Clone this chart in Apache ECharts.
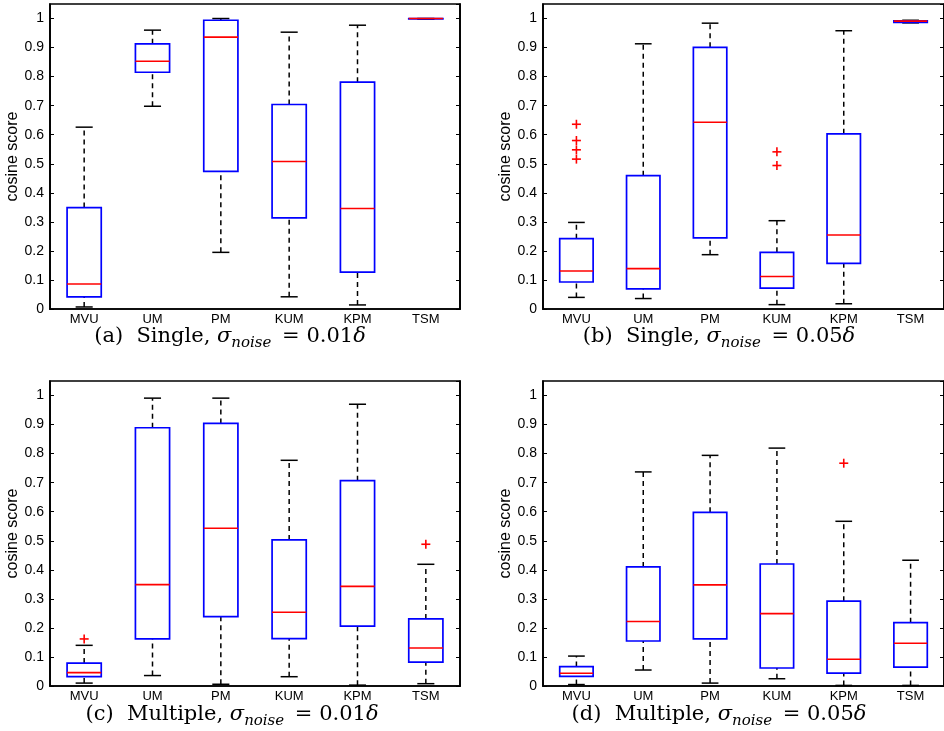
<!DOCTYPE html>
<html>
<head>
<meta charset="utf-8">
<script src="https://cdn.jsdelivr.net/npm/echarts@6/dist/echarts.min.js"></script>
<style>
html,body{margin:0;padding:0;background:#fff;}
#chart{width:944px;height:731px;}
</style>
</head>
<body>
<div id="chart"></div>
<script>
// ---- data ----
const categories = ['MVU', 'UM', 'PM', 'KUM', 'KPM', 'TSM'];
const yTicks = [0, 0.1, 0.2, 0.3, 0.4, 0.5, 0.6, 0.7, 0.8, 0.9, 1];
// each box: [lower whisker, Q1, median, Q3, upper whisker]
const boxesA = [
  [0.007, 0.042, 0.086, 0.349, 0.626],
  [0.698, 0.815, 0.853, 0.913, 0.960],
  [0.195, 0.474, 0.936, 0.994, 1.000],
  [0.042, 0.314, 0.508, 0.704, 0.953],
  [0.014, 0.127, 0.346, 0.781, 0.977],
  [0.998, 0.999, 1.000, 1.000, 1.000]
];
const outliersA = [];
const boxesB = [
  [0.040, 0.093, 0.131, 0.242, 0.298],
  [0.036, 0.069, 0.139, 0.459, 0.913],
  [0.187, 0.245, 0.643, 0.901, 0.984],
  [0.015, 0.072, 0.112, 0.195, 0.304],
  [0.018, 0.157, 0.255, 0.603, 0.958],
  [0.985, 0.987, 0.991, 0.992, 0.994]
];
const outliersB = [[0, 0.636], [0, 0.580], [0, 0.548], [0, 0.516], [3, 0.541], [3, 0.494]];
const boxesC = [
  [0.010, 0.032, 0.046, 0.079, 0.140],
  [0.036, 0.162, 0.349, 0.889, 0.991],
  [0.006, 0.239, 0.543, 0.904, 0.991],
  [0.032, 0.163, 0.254, 0.503, 0.777],
  [0.003, 0.206, 0.343, 0.707, 0.970],
  [0.008, 0.082, 0.131, 0.231, 0.419]
];
const outliersC = [[0, 0.162], [5, 0.488]];
const boxesD = [
  [0.005, 0.033, 0.044, 0.067, 0.103],
  [0.055, 0.155, 0.222, 0.410, 0.737],
  [0.010, 0.162, 0.348, 0.598, 0.794],
  [0.025, 0.062, 0.249, 0.420, 0.819],
  [0.002, 0.044, 0.092, 0.292, 0.567],
  [0.002, 0.065, 0.147, 0.218, 0.433]
];
const outliersD = [[4, 0.767]];
const captions = [
  ['(a)', 'Single,', '0.01'],
  ['(b)', 'Single,', '0.05'],
  ['(c)', 'Multiple,', '0.01'],
  ['(d)', 'Multiple,', '0.05']
];

// ---- layout ----
const panels = [
  {grid: {left: 50, top: 4, width: 410, height: 305}, boxes: boxesA, out: outliersA, cap: [230, 337]},
  {grid: {left: 543, top: 4, width: 409, height: 305}, boxes: boxesB, out: outliersB, cap: [719, 337]},
  {grid: {left: 50, top: 381, width: 410, height: 305}, boxes: boxesC, out: outliersC, cap: [232, 715]},
  {grid: {left: 543, top: 381, width: 409, height: 305}, boxes: boxesD, out: outliersD, cap: [719, 715]}
];

const AXFONT = 'Liberation Sans, Arial, sans-serif';
const SERIF = 'DejaVu Serif, serif';
const grid = [], xAxis = [], yAxis = [], series = [], graphic = [];

function renderBox(params, api) {
  const idx = api.value(0);
  const lo = api.value(1), q1 = api.value(2), med = api.value(3), q3 = api.value(4), hi = api.value(5);
  const band = api.size([1, 0])[0];
  const w = band * 0.5, cw = w * 0.5;
  const cx = api.coord([idx, med])[0];
  const y = v => api.coord([idx, v])[1];
  const black = {stroke: '#000', lineWidth: 1.5, fill: null};
  const dash = {stroke: '#000', lineWidth: 1.5, lineDash: [5, 4], fill: null};
  return {
    type: 'group',
    children: [
      {type: 'line', shape: {x1: cx, y1: y(q3), x2: cx, y2: y(hi)}, style: dash},
      {type: 'line', shape: {x1: cx, y1: y(lo), x2: cx, y2: y(q1)}, style: dash},
      {type: 'line', shape: {x1: cx - cw / 2, y1: y(hi), x2: cx + cw / 2, y2: y(hi)}, style: black},
      {type: 'line', shape: {x1: cx - cw / 2, y1: y(lo), x2: cx + cw / 2, y2: y(lo)}, style: black},
      {type: 'rect', shape: {x: cx - w / 2, y: y(q3), width: w, height: y(q1) - y(q3)},
        style: {stroke: '#0000ff', lineWidth: 1.7, fill: null}},
      {type: 'line', shape: {x1: cx - w / 2, y1: y(med), x2: cx + w / 2, y2: y(med)},
        style: {stroke: '#ff0000', lineWidth: 1.6}}
    ]
  };
}
function renderOut(params, api) {
  const p = api.coord([api.value(0), api.value(1)]);
  const s = 4.5;
  const st = {stroke: '#ff0000', lineWidth: 1.6};
  return {type: 'group', children: [
    {type: 'line', shape: {x1: p[0] - s, y1: p[1], x2: p[0] + s, y2: p[1]}, style: st},
    {type: 'line', shape: {x1: p[0], y1: p[1] - s, x2: p[0], y2: p[1] + s}, style: st}
  ]};
}

panels.forEach((p, i) => {
  grid.push(Object.assign({show: true, borderColor: '#000', borderWidth: 1.7, backgroundColor: 'transparent'}, p.grid));
  xAxis.push({
    type: 'category', gridIndex: i, data: categories, boundaryGap: true,
    axisLine: {lineStyle: {color: '#000', width: 1.7}},
    axisTick: {show: false},
    axisLabel: {color: '#000', fontFamily: AXFONT, fontSize: 13, margin: 4}
  });
  yAxis.push({
    type: 'value', gridIndex: i, min: 0, max: 1.05, interval: 0.1,
    name: 'cosine score', nameLocation: 'middle', nameGap: 28,
    nameTextStyle: {color: '#000', fontFamily: AXFONT, fontSize: 16},
    splitLine: {show: false},
    axisLine: {show: true, lineStyle: {color: '#000', width: 1.7}},
    axisTick: {show: true, inside: true, length: 4, lineStyle: {color: '#000'}},
    axisLabel: {color: '#000', fontFamily: AXFONT, fontSize: 14, margin: 6, showMaxLabel: false,
      formatter: v => (yTicks.some(t => Math.abs(t - v) < 1e-6) ? String(Math.round(v * 10) / 10) : '')}
  });
  yAxis.push({
    type: 'value', gridIndex: i, min: 0, max: 1.05, interval: 0.1, position: 'right',
    splitLine: {show: false},
    axisLine: {show: true, lineStyle: {color: '#000', width: 1.7}},
    axisTick: {show: true, inside: true, length: 4, lineStyle: {color: '#000'}},
    axisLabel: {show: false}
  });
  series.push({
    type: 'custom', xAxisIndex: i, yAxisIndex: i * 2, clip: false,
    renderItem: renderBox,
    encode: {x: 0, y: [1, 2, 3, 4, 5]},
    data: p.boxes.map((b, k) => [k].concat(b))
  });
  series.push({
    type: 'custom', xAxisIndex: i, yAxisIndex: i * 2, clip: false,
    renderItem: renderOut,
    encode: {x: 0, y: 1},
    data: p.out
  });
  const c = captions[i];
  graphic.push({
    type: 'text', x: p.cap[0], y: p.cap[1],
    style: {
      text: '{n|' + c[0] + '  ' + c[1] + ' }{m|σ}{sub|noise}{n| = ' + c[2] + '}{m|δ}',
      align: 'center', verticalAlign: 'middle',
      fill: '#000',
      rich: {
        n: {fontFamily: SERIF, fontSize: 21, lineHeight: 28, verticalAlign: 'middle', fill: '#000'},
        m: {fontFamily: SERIF, fontStyle: 'italic', fontSize: 21, lineHeight: 28, verticalAlign: 'middle', fill: '#000'},
        sub: {fontFamily: SERIF, fontStyle: 'italic', fontSize: 15, lineHeight: 28, verticalAlign: 'bottom', fill: '#000', padding: [0, 4, 0, 0]}
      }
    }
  });
});

const chart = echarts.init(document.getElementById('chart'), null, {renderer: 'canvas'});
chart.setOption({
  animation: false,
  backgroundColor: '#fff',
  grid, xAxis, yAxis, series, graphic
});
</script>
</body>
</html>
